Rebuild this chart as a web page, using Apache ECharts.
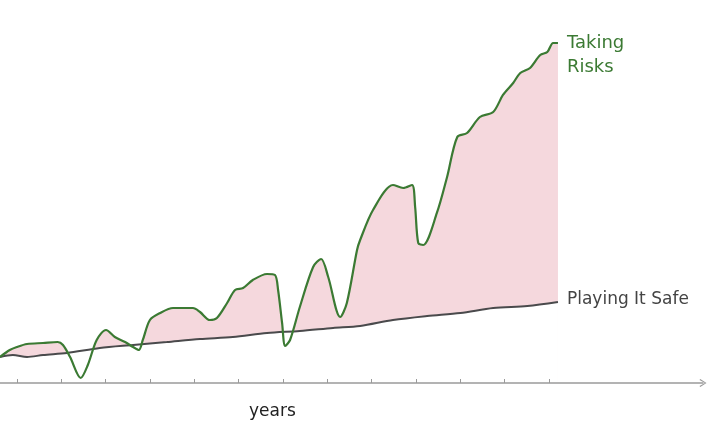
<!DOCTYPE html>
<html>
<head>
<meta charset="utf-8">
<script src="https://cdn.jsdelivr.net/npm/echarts@6/dist/echarts.min.js"></script>
<style>html,body{margin:0;padding:0;background:#fff}#c{width:720px;height:439px}</style>
</head>
<body>
<div id="c"></div>
<script>
// x = years, y = relative wealth (0-100)
const riskYears = [0.62,0.84,1.00,1.23,1.59,1.92,2.04,2.20,2.44,2.60,2.80,3.01,3.21,3.44,3.62,3.75,3.84,4.00,4.23,4.52,4.97,5.13,5.35,5.51,5.74,5.92,6.10,6.32,6.64,6.82,6.89,6.98,7.05,7.16,7.38,7.68,7.86,8.02,8.29,8.44,8.67,8.74,9.03,9.48,9.71,9.91,9.98,10.05,10.16,10.47,10.70,10.93,11.15,11.44,11.74,11.96,12.19,12.35,12.57,12.80,12.96,13.09,13.20];
const riskValues = [6.79,8.62,9.40,10.18,10.44,10.70,9.92,6.79,1.31,4.70,11.23,13.84,12.01,10.70,9.40,8.62,11.23,16.45,18.28,19.58,19.58,18.54,16.45,16.97,20.89,24.28,24.80,26.89,28.46,28.20,24.28,15.67,9.66,11.23,19.84,30.29,32.38,27.68,17.23,20.89,34.73,37.34,45.17,51.70,50.91,51.70,45.95,36.55,36.03,44.39,53.79,64.23,65.27,69.45,70.76,75.20,78.33,80.94,82.25,85.64,86.42,88.77,88.77];
const safeYears = [0.62,0.91,1.23,1.59,2.13,2.87,3.62,4.38,5.13,5.87,6.64,7.38,8.13,8.74,9.48,10.25,11.00,11.74,12.51,13.20];
const safeValues = [6.79,7.31,6.79,7.31,7.83,9.14,9.92,10.70,11.49,12.01,13.05,13.58,14.36,14.88,16.45,17.49,18.28,19.58,20.10,21.15];
const tickYears = [1,2,3,4,5,6,7,8,9,10,11,12,13];
const riskName = 'Taking\nRisks';
const safeName = 'Playing It Safe';
const axisName = 'years';

const pair = (xs, ys) => xs.map((x, i) => [x, ys[i]]);
const riskData = pair(riskYears, riskValues);
const safeData = pair(safeYears, safeValues);
const FONT = "'DejaVu Sans', sans-serif";
const GREEN = '#3b7a33';
const GRAY = '#4a4a4c';

const chart = echarts.init(document.getElementById('c'), null, {renderer: 'canvas'});
chart.setOption({
  animation: false,
  backgroundColor: '#ffffff',
  title: {
    text: axisName, left: 244, top: 398,
    textStyle: {fontFamily: FONT, fontSize: 17, fontWeight: 'normal', color: '#222'}
  },
  grid: {left: 0, right: 17, top: 0, bottom: 56, containLabel: false},
  xAxis: {
    type: 'value', min: 0.62, max: 16.47, z: 10,
    splitLine: {show: false},
    axisLabel: {show: false},
    axisLine: {
      show: true, onZero: false,
      lineStyle: {color: '#9a9a9a', width: 1.5},
      symbol: ['none', 'path://M5,0 L10,8 L9,9 L5,2 L1,9 L0,8 Z'],
      symbolSize: [12, 7]
    },
    axisTick: {show: true, inside: true, length: 4, customValues: tickYears,
      lineStyle: {color: '#9a9a9a', width: 1}}
  },
  yAxis: {type: 'value', min: 0, max: 100, show: false, splitLine: {show: false}},
  series: [
    {
      type: 'line', data: riskData, smooth: 0.3, symbol: 'none', z: 1,
      lineStyle: {width: 0}, areaStyle: {color: '#f5d8dd', opacity: 1}, silent: true
    },
    {
      type: 'line', data: safeData, smooth: 0.3, symbol: 'none', z: 2,
      lineStyle: {width: 0}, areaStyle: {color: '#ffffff', opacity: 1}, silent: true
    },
    {
      name: riskName, type: 'line', data: riskData, smooth: 0.3, symbol: 'none', z: 4,
      lineStyle: {color: GREEN, width: 2.2},
      endLabel: {show: true, formatter: riskName, color: GREEN, fontFamily: FONT, fontSize: 18,
        lineHeight: 24, align: 'left', verticalAlign: 'top', distance: 9, offset: [0, -12]}
    },
    {
      name: safeName, type: 'line', data: safeData, smooth: 0.3, symbol: 'none', z: 3,
      lineStyle: {color: GRAY, width: 2},
      endLabel: {show: true, formatter: safeName, color: '#444', fontFamily: FONT, fontSize: 17,
        align: 'left', verticalAlign: 'middle', distance: 9, offset: [0, -2]}
    }
  ]
});
</script>
</body>
</html>
